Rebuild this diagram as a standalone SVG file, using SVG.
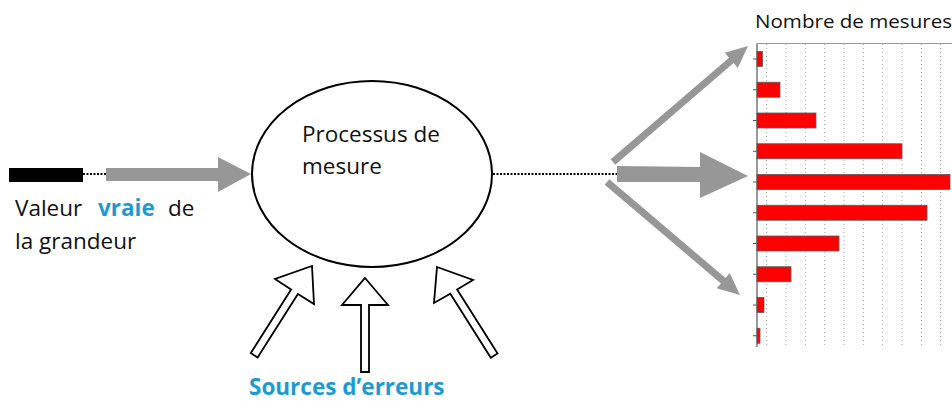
<svg xmlns="http://www.w3.org/2000/svg" width="952" height="401" viewBox="0 0 952 401">
<style>
.t{font-family:"Open Sans","Liberation Sans",sans-serif;font-size:22.5px;fill:#111}
.b{font-weight:bold;fill:#1d9bd1}
.gray{fill:#979797;stroke:none}
.hollow{fill:#fff;stroke:#000;stroke-width:1.8;stroke-linejoin:miter}
.bar{fill:#ff0000;stroke:#5a5a5a;stroke-width:0.8}
.grid{stroke:#a8a8a8;stroke-width:1;stroke-dasharray:1 3}
.dot{stroke:#000;stroke-width:2;stroke-dasharray:2 1.5;fill:none}
</style>
<rect width="952" height="401" fill="#fff"/>

<g id="input">
<rect x="9" y="168" width="74" height="14" fill="#000"/>
<text class="t" y="216"><tspan x="15">Valeur</tspan><tspan x="98" class="b">vraie</tspan><tspan x="168">de</tspan></text>
<text class="t" x="15" y="249">la grandeur</text>
</g>

<g id="process">
<ellipse cx="372" cy="174" rx="120" ry="93" fill="#fff" stroke="#000" stroke-width="2"/>
<text class="t" x="302" y="142">Processus de</text>
<text class="t" x="302" y="174">mesure</text>
</g>

<g id="errors">
<polygon class="hollow" points="312,266 314,304 297.9,293.9 257.6,357.5 250.8,353.1 291.1,289.5 275,279"/>
<polygon class="hollow" points="365,278 388,305 369,305 369,372 361,372 361,305 342,305"/>
<polygon class="hollow" points="437,267 473,280 457.1,289.5 497.6,353.5 490.8,357.8 450.3,293.8 434,303"/>
<text class="t b" x="249" y="394.5">Sources d’erreurs</text>
</g>

<g id="chart">
<text class="t" x="755" y="28" style="font-size:17.5px" textLength="197" lengthAdjust="spacingAndGlyphs">Nombre de mesures</text>
<g class="grid">
<line x1="766.7" y1="44" x2="766.7" y2="347"/>
<line x1="786" y1="44" x2="786" y2="347"/>
<line x1="805.3" y1="44" x2="805.3" y2="347"/>
<line x1="824.7" y1="44" x2="824.7" y2="347"/>
<line x1="844" y1="44" x2="844" y2="347"/>
<line x1="863.3" y1="44" x2="863.3" y2="347"/>
<line x1="882.7" y1="44" x2="882.7" y2="347"/>
<line x1="902" y1="44" x2="902" y2="347"/>
<line x1="921.3" y1="44" x2="921.3" y2="347"/>
<line x1="940.7" y1="44" x2="940.7" y2="347"/>
</g>
<line x1="757" y1="43.5" x2="952" y2="43.5" stroke="#9a9a9a" stroke-width="1"/>
<g stroke="#555" stroke-width="1">
<line x1="753" y1="59" x2="757" y2="59"/>
<line x1="753" y1="89.75" x2="757" y2="89.75"/>
<line x1="753" y1="120.5" x2="757" y2="120.5"/>
<line x1="753" y1="151.25" x2="757" y2="151.25"/>
<line x1="753" y1="182" x2="757" y2="182"/>
<line x1="753" y1="212.75" x2="757" y2="212.75"/>
<line x1="753" y1="243.5" x2="757" y2="243.5"/>
<line x1="753" y1="274.25" x2="757" y2="274.25"/>
<line x1="753" y1="305" x2="757" y2="305"/>
<line x1="753" y1="335.75" x2="757" y2="335.75"/>
</g>
<rect class="bar" x="757" y="51.5" width="5.5" height="15"/>
<rect class="bar" x="757" y="82.25" width="23" height="15"/>
<rect class="bar" x="757" y="113" width="59" height="15"/>
<rect class="bar" x="757" y="143.75" width="145" height="15"/>
<rect class="bar" x="757" y="174.5" width="193" height="15"/>
<rect class="bar" x="757" y="205.25" width="170" height="15"/>
<rect class="bar" x="757" y="236" width="82" height="15"/>
<rect class="bar" x="757" y="266.75" width="34" height="15"/>
<rect class="bar" x="757" y="297.5" width="7" height="15"/>
<rect class="bar" x="757" y="328.25" width="3" height="15"/>
<line x1="757" y1="43.5" x2="757" y2="347" stroke="#555" stroke-width="1.2"/>
</g>

<g id="connectors">
<line class="dot" x1="83" y1="174" x2="106" y2="174"/>
<polygon class="gray" points="106,168 218,168 218,157 251,174 218,192 218,181 106,181"/>
<line class="dot" x1="493" y1="174" x2="617" y2="174"/>
<polygon class="gray" points="617,166 700,167 700,152 748,176 700,198 700,182 617,182"/>
<polygon class="gray" points="615.3,164.7 733.6,63 737.8,67.9 748,46 724.8,52.7 729,57.7 610.7,159.3"/>
<polygon class="gray" points="604.7,184.7 720.9,283.4 716.7,288.3 740,295 729.7,273.1 725.5,278 609.3,179.3"/>
</g>
</svg>
